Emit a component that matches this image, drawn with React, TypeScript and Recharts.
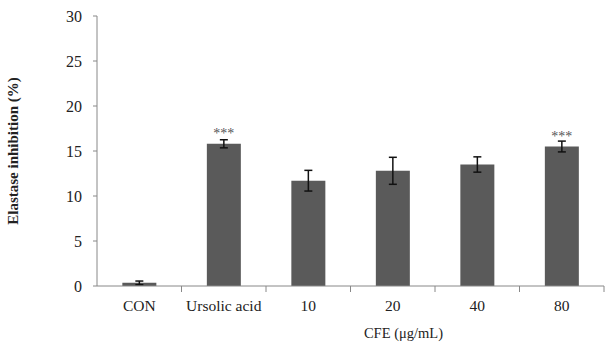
import React from "react";
import {
  BarChart,
  Bar,
  XAxis,
  YAxis,
  ErrorBar,
  LabelList,
  Label,
} from "recharts";

const categories = ["CON", "Ursolic acid", "10", "20", "40", "80"];
const inhibition = [0.35, 15.8, 11.7, 12.8, 13.5, 15.5];
const sem = [0.2, 0.45, 1.15, 1.5, 0.85, 0.6];
const significance = ["", "***", "", "", "", "***"];
const yTicks = [0, 5, 10, 15, 20, 25, 30];

const data = categories.map((name, i) => ({
  name,
  value: inhibition[i],
  err: sem[i],
  sig: significance[i],
}));

const W = 606;
const H = 343;
const M = { top: 16, right: 2, left: 0, bottom: 0 };
const Y_AXIS_W = 97;
const X_AXIS_H = 57;
const PLOT_W = W - M.left - M.right - Y_AXIS_W;
const FONT = "'Liberation Serif', 'Times New Roman', serif";

const CategoryTick = (props: any) => {
  const { x, y, payload } = props;
  const half = PLOT_W / categories.length / 2;
  return (
    <g>
      <text
        x={x}
        y={y + 25}
        textAnchor="middle"
        fontFamily={FONT}
        fontSize={15.5}
        fill="#222"
      >
        {payload.value}
      </text>
      <line x1={x + half} x2={x + half} y1={y} y2={y + 6} stroke="#888" />
    </g>
  );
};

export default function App() {
  return (
    <div
      style={{
        position: "absolute",
        left: 0,
        top: 0,
        width: W,
        height: H,
        background: "#fff",
      }}
    >
      <BarChart width={W} height={H} data={data} margin={M} barCategoryGap="30%">
        <XAxis
          dataKey="name"
          height={X_AXIS_H}
          stroke="#888"
          tickLine={false}
          tickSize={0}
          tickMargin={0}
          tick={<CategoryTick />}
          interval={0}
        >
          <Label
            value="CFE (μg/mL)"
            position="insideBottom"
            offset={5}
            dx={53}
            style={{ fontFamily: FONT, fontSize: 14.5, fill: "#222" }}
          />
        </XAxis>
        <XAxis
          xAxisId="top"
          dataKey="name"
          orientation="top"
          height={0}
          tick={false}
          tickLine={false}
          stroke="#c4c4c4"
        />
        <YAxis
          domain={[0, 30]}
          ticks={yTicks}
          width={Y_AXIS_W}
          stroke="#888"
          tickSize={4}
          tickMargin={11}
          tick={{ fontFamily: FONT, fontSize: 16, fill: "#222" }}
        >
          <Label
            value="Elastase inhibition  (%)"
            angle={-90}
            position="insideLeft"
            offset={13}
            style={{
              fontFamily: FONT,
              fontSize: 15,
              fontWeight: "bold",
              fill: "#222",
              textAnchor: "middle",
              whiteSpace: "pre",
            }}
          />
        </YAxis>
        <YAxis
          yAxisId="right"
          orientation="right"
          width={0}
          domain={[0, 30]}
          tick={false}
          tickLine={false}
          stroke="#c4c4c4"
        />
        <Bar dataKey="value" fill="#5a5a5a" isAnimationActive={false}>
          <ErrorBar
            dataKey="err"
            width={4}
            stroke="#111"
            strokeWidth={1.5}
            direction="y"
          />
          <LabelList
            dataKey="sig"
            position="top"
            offset={6}
            style={{ fontFamily: FONT, fontSize: 14, fill: "#555" }}
          />
        </Bar>
      </BarChart>
    </div>
  );
}
